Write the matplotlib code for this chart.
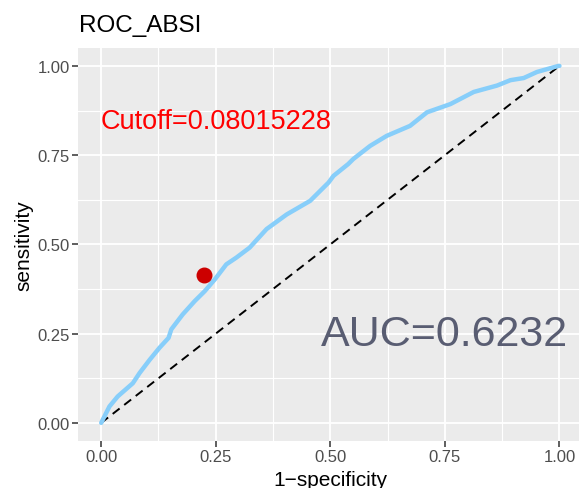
import matplotlib
matplotlib.use("Agg")
import matplotlib.pyplot as plt
import numpy as np

plt.rcParams['font.family'] = ['Liberation Sans', 'DejaVu Sans']

# ROC curve: (1-specificity, sensitivity)
fpr = [0.0, 0.018, 0.036, 0.069, 0.084, 0.106, 0.127, 0.147, 0.153, 0.178,
       0.204, 0.226, 0.248, 0.273, 0.295, 0.324, 0.361, 0.405, 0.456, 0.496,
       0.507, 0.539, 0.550, 0.587, 0.623, 0.674, 0.711, 0.762, 0.813, 0.864,
       0.893, 0.922, 0.951, 0.998, 1.0]
tpr = [0.0, 0.046, 0.074, 0.111, 0.140, 0.177, 0.210, 0.238, 0.262, 0.304,
       0.341, 0.369, 0.402, 0.444, 0.463, 0.491, 0.543, 0.584, 0.622, 0.673,
       0.692, 0.725, 0.739, 0.776, 0.804, 0.832, 0.870, 0.893, 0.927, 0.945,
       0.960, 0.966, 0.983, 1.0, 1.0]

cutoff_point = (0.224, 0.413)
cutoff_label = "Cutoff=0.08015228"
auc_label = "AUC=0.6232"
title = "ROC_ABSI"
ticks = [0.0, 0.25, 0.5, 0.75, 1.0]
tick_labels = ["0.00", "0.25", "0.50", "0.75", "1.00"]

fig = plt.figure(figsize=(5.79, 4.89), dpi=100)
ax = fig.add_axes([0.1352, 0.0967, 0.8706, 0.803])
ax.set_facecolor("#EBEBEB")
for s in ax.spines.values():
    s.set_visible(False)

ax.set_xlim(-0.05, 1.05)
ax.set_ylim(-0.05, 1.05)
ax.set_xticks(ticks)
ax.set_xticklabels(tick_labels)
ax.set_yticks(ticks)
ax.set_yticklabels(tick_labels)
minor = [0.125, 0.375, 0.625, 0.875]
ax.set_xticks(minor, minor=True)
ax.set_yticks(minor, minor=True)
ax.tick_params(which="minor", length=0)
ax.tick_params(which="major", length=4, width=1.1, color="#333333",
               labelsize=12, labelcolor="#4D4D4D", pad=2)
ax.grid(which="major", color="white", linewidth=1.3)
ax.grid(which="minor", color="white", linewidth=0.8)
ax.set_axisbelow(True)

# chance line
ax.plot([0, 1], [0, 1], color="black", linestyle=(0, (4.5, 3)), linewidth=1.4, zorder=2)
ax.plot(fpr, tpr, color="#87CEFA", linewidth=3.2, solid_capstyle="round",
        solid_joinstyle="round", zorder=3)
ax.scatter([cutoff_point[0]], [cutoff_point[1]], s=110, color="#CC0000", zorder=4)

ax.text(0.25, 0.845, cutoff_label, color="red", fontsize=19.5, ha="center", va="center")
ax.text(0.75, 0.25, auc_label, color="#595D72", fontsize=31, ha="center", va="center")

ax.set_xlabel("1\u2212specificity", fontsize=15, labelpad=4)
ax.set_ylabel("sensitivity", fontsize=15, labelpad=3)
fig.text(0.1365, 0.935, title, fontsize=17.5, ha="left", va="baseline")

fig.savefig("out.png", dpi=100)
